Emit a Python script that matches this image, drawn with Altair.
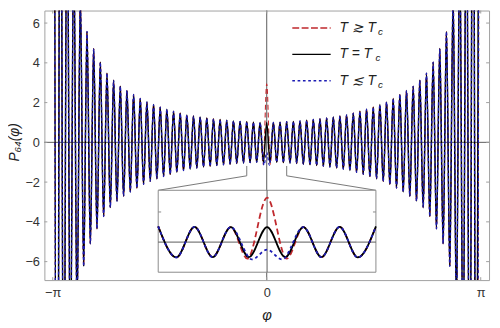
import altair as alt
import pandas as pd

# ---- values -----------------------------------------------------------
# extremum index j counts half-periods from phi = 0 (even j = maxima, odd j = minima)
peak_amp = [1.00, 1.00, 1.01, 1.04, 1.05, 1.08, 1.11, 1.15, 1.18, 1.22, 1.27,
            1.32, 1.38, 1.47, 1.56, 1.67, 1.77, 1.90, 2.03, 2.21, 2.41, 2.61,
            2.82, 3.12, 3.48, 4.03, 4.72, 5.58, 7.3, 10.2, 14.8, 23.0, 40.0]
trough_amp = [1.00, 1.00, 1.02, 1.04, 1.06, 1.10, 1.13, 1.16, 1.20, 1.24, 1.29,
              1.35, 1.42, 1.51, 1.61, 1.72, 1.83, 1.96, 2.11, 2.30, 2.50, 2.71,
              2.96, 3.28, 3.73, 4.35, 5.10, 6.24, 8.6, 12.2, 18.0, 30.0]
# deviations near phi = 0
red_center_j = [-2, -1.08, 0, 1.08, 2]
red_center_v = [1.0, -1.1, 2.95, -1.1, 1.0]
blue_center_j = [-2, -0.83, 0, 0.83, 2]
blue_center_v = [1.0, -1.15, -0.5, -1.15, 1.0]

y_ticks = [-6, -4, -2, 0, 2, 4, 6]
x_ticks = [-64.3, 0, 64.3]          # -pi, 0, pi in half-period units
x_tick_labels = ["−π", "0", "π"]
legend_labels = ["T ≳ T", "T = T", "T ≲ T"]
inset_ticks = [2]

# ---- build tables -----------------------------------------------------
base = []
for j in range(-64, 65):
    m = abs(j)
    v = peak_amp[m // 2] if m % 2 == 0 else -trough_amp[(m - 1) // 2]
    base.append((j, v))

black = pd.DataFrame(base, columns=["j", "v"])
red = pd.concat([black[black.j.abs() > 2],
                 pd.DataFrame({"j": red_center_j, "v": red_center_v})]).sort_values("j")
blue = pd.concat([black[black.j.abs() > 2],
                  pd.DataFrame({"j": blue_center_j, "v": blue_center_v})]).sort_values("j")

def inset_df(df):
    d = df[df.j.abs() <= 6]
    return pd.DataFrame({"ji": d.j.values, "vi": d.v.values})

FONT = "Liberation Sans"
FRAME = "#a0a0a0"
ZERO = "#5a5a5a"
RED = "#c0282d"
BLUE = "#1c1cb4"
W, H = 452, 274

xlab = ("datum.value < -1 ? '−π' : (datum.value > 1 ? 'π' : '0')")
X = alt.X("j:Q", scale=alt.Scale(domain=[-66.8, 66.8], nice=False, zero=False),
          axis=alt.Axis(values=x_ticks, labelExpr=xlab, title=None, grid=False,
                        ticks=False, tickSize=0, domain=False, labelPadding=7,
                        labelFontSize=13, labelColor="#333", labelFont=FONT))
Y = alt.Y("v:Q", scale=alt.Scale(domain=[-6.93, 6.63], nice=False, zero=False),
          axis=alt.Axis(values=y_ticks, labelExpr="replace(datum.label, '-', '−')",
                        title=None, grid=False, ticks=False, tickSize=0,
                        domain=False, labelPadding=5, labelFontSize=13,
                        labelColor="#333", labelFont=FONT))

one = pd.DataFrame({"a": [0]})

zero_h = alt.Chart(pd.DataFrame({"v": [0]})).mark_rule(color=ZERO, strokeWidth=1).encode(
    y=Y, x=alt.value(0), x2=alt.value(W))
zero_v = alt.Chart(pd.DataFrame({"j": [0]})).mark_rule(color=ZERO, strokeWidth=1).encode(
    x=X, y=alt.value(0), y2=alt.value(H))

line_red = alt.Chart(red).mark_line(color=RED, strokeWidth=1.1, strokeDash=[5, 3],
                                    interpolate="monotone", clip=True).encode(x=X, y=Y)
line_black = alt.Chart(black).mark_line(color="black", strokeWidth=1.5,
                                        interpolate="monotone", clip=True).encode(x=X, y=Y)
line_blue = alt.Chart(blue).mark_line(color=BLUE, strokeWidth=1.3, strokeDash=[3, 2.5],
                                      interpolate="monotone", clip=True).encode(x=X, y=Y)

# frame ticks (inward)
yt = pd.DataFrame({"v": y_ticks})
xt = pd.DataFrame({"j": x_ticks})
tk_l = alt.Chart(yt).mark_rule(color=FRAME).encode(y=Y, x=alt.value(0), x2=alt.value(3))
tk_r = alt.Chart(yt).mark_rule(color=FRAME).encode(y=Y, x=alt.value(W - 3), x2=alt.value(W))
tk_b = alt.Chart(xt).mark_rule(color=FRAME).encode(x=X, y=alt.value(H - 3), y2=alt.value(H))
tk_t = alt.Chart(xt).mark_rule(color=FRAME).encode(x=X, y=alt.value(0), y2=alt.value(3))

# connectors to inset
conn_v = alt.Chart(pd.DataFrame({"j": [-6, 6]})).mark_rule(color="#777").encode(
    x=X, y=alt.value(158), y2=alt.value(168))
IX0, IX1, IY0, IY1 = 115.7, 337, 182.7, 266
conn_l = alt.Chart(one).mark_rule(color="#777").encode(
    x=alt.value(205.7), y=alt.value(168), x2=alt.value(IX0), y2=alt.value(IY0))
conn_r = alt.Chart(one).mark_rule(color="#777").encode(
    x=alt.value(246.3), y=alt.value(168), x2=alt.value(IX1), y2=alt.value(IY0))

# legend
leg = []
leg_y = [17.7, 44.5, 71.3]
leg_styles = [dict(color=RED, strokeDash=[7, 2.5], strokeWidth=1.5),
              dict(color="black", strokeWidth=1.3),
              dict(color=BLUE, strokeDash=[2.7, 2.7], strokeWidth=1.5)]
sub_x = [339, 336.5, 339]
for i, lab in enumerate(legend_labels):
    leg.append(alt.Chart(one).mark_rule(**leg_styles[i]).encode(
        x=alt.value(252), x2=alt.value(291), y=alt.value(leg_y[i])))
    leg.append(alt.Chart(one).mark_text(text=lab, align="left", baseline="middle",
                                        font=FONT, fontSize=14, fontStyle="italic",
                                        color="#222").encode(
        x=alt.value(300), y=alt.value(leg_y[i])))
    leg.append(alt.Chart(one).mark_text(text="c", align="left", baseline="middle",
                                        font=FONT, fontSize=10, fontStyle="italic",
                                        color="#222").encode(
        x=alt.value(sub_x[i]), y=alt.value(leg_y[i] + 4)))

ytitle = alt.Chart(one).mark_text(text="P₆₄(φ)", angle=270, align="center",
                                  baseline="middle", font=FONT, fontSize=14,
                                  fontStyle="italic", color="#222").encode(
    x=alt.value(-29.5), y=alt.value(134))
xtitle = alt.Chart(one).mark_text(text="φ", align="center", baseline="middle",
                                  font=FONT, fontSize=15, fontStyle="italic",
                                  color="#222").encode(
    x=alt.value(226.3), y=alt.value(310))

main = alt.layer(zero_h, zero_v, line_red, line_black, line_blue,
                 tk_l, tk_r, tk_b, tk_t, conn_v, conn_l, conn_r,
                 *leg, ytitle, xtitle)

# ---- inset ------------------------------------------------------------
XI = alt.X("ji:Q", scale=alt.Scale(domain=[-6, 6], range=[IX0, IX1], nice=False, zero=False),
           axis=None)
YI = alt.Y("vi:Q", scale=alt.Scale(domain=[-2.0, 3.44], range=[IY1, IY0], nice=False, zero=False),
           axis=None)
box = alt.Chart(one).mark_rect(fill="white", stroke="#8a8a8a", strokeWidth=1).encode(
    x=alt.value(IX0), x2=alt.value(IX1), y=alt.value(IY0), y2=alt.value(IY1))
in_zh = alt.Chart(pd.DataFrame({"vi": [0]})).mark_rule(color=ZERO).encode(
    y=YI, x=alt.value(IX0), x2=alt.value(IX1))
in_zv = alt.Chart(pd.DataFrame({"ji": [0]})).mark_rule(color=ZERO).encode(
    x=XI, y=alt.value(IY0), y2=alt.value(IY1))
it = pd.DataFrame({"vi": inset_ticks})
in_tl = alt.Chart(it).mark_rule(color="#8a8a8a").encode(y=YI, x=alt.value(IX0), x2=alt.value(IX0 + 3))
in_tr = alt.Chart(it).mark_rule(color="#8a8a8a").encode(y=YI, x=alt.value(IX1 - 3), x2=alt.value(IX1))
in_red = alt.Chart(inset_df(red)).mark_line(color=RED, strokeWidth=1.8, strokeDash=[6, 3.5],
                                            interpolate="monotone").encode(x=XI, y=YI)
in_black = alt.Chart(inset_df(black)).mark_line(color="black", strokeWidth=1.8,
                                                interpolate="monotone").encode(x=XI, y=YI)
in_blue = alt.Chart(inset_df(blue)).mark_line(color=BLUE, strokeWidth=1.8, strokeDash=[3, 3],
                                              interpolate="monotone").encode(x=XI, y=YI)
inset = alt.layer(box, in_zh, in_zv, in_tl, in_tr, in_red, in_black, in_blue)

chart = alt.layer(main, inset).resolve_scale(x="independent", y="independent").properties(
    width=W, height=H,
    autosize=alt.AutoSizeParams(type="none"),
    padding={"left": 37, "top": 0, "right": 3, "bottom": 40},
).configure_view(stroke=FRAME, strokeWidth=1)

chart.save("out.html", embed_options={"renderer": "svg", "actions": False})
